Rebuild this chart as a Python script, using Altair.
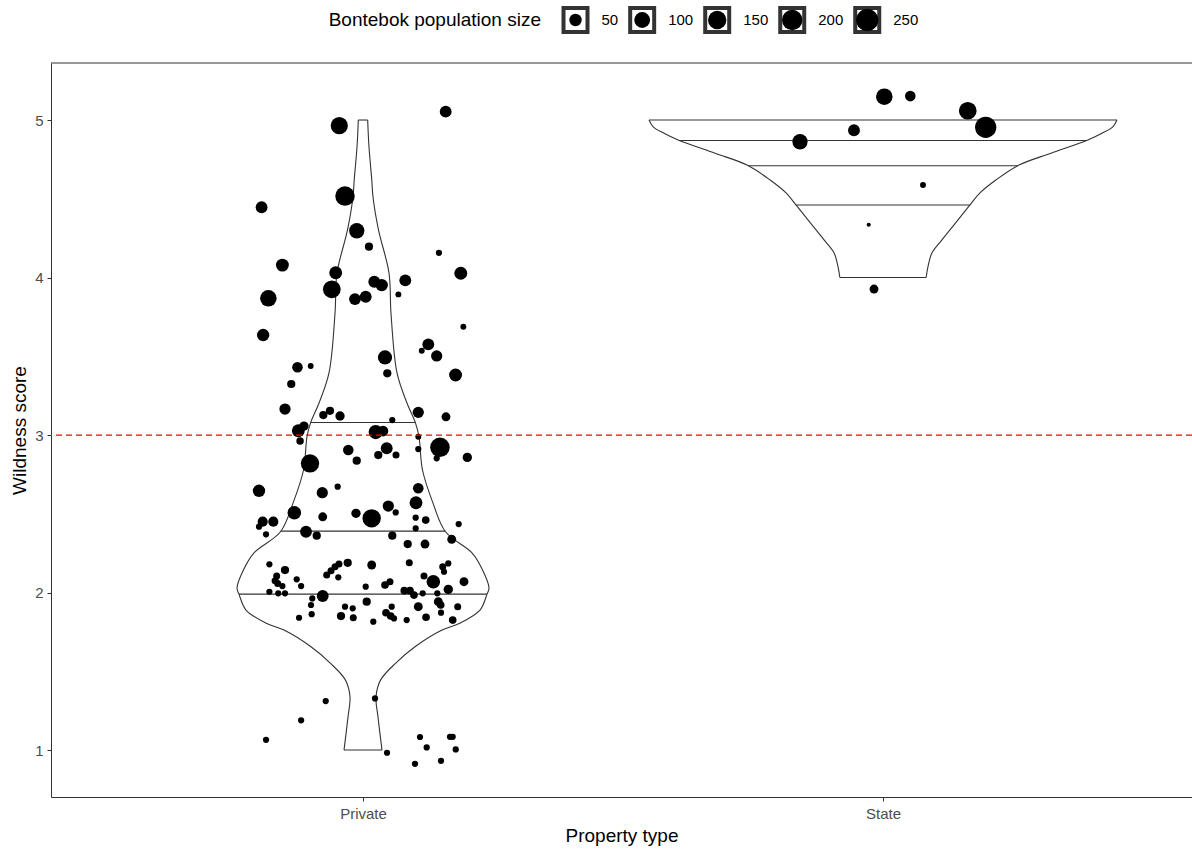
import json

import altair as alt
import numpy as np
import pandas as pd

# ---------------------------------------------------------------- data
prop_types = ["Private", "State"]

# Private properties: horizontal jitter (category units), jittered wildness score, population size
private_dx = [
    -0.0456, 0.159, -0.0346, -0.195, -0.012, 0.0115, 0.146, -0.155, 0.188, -0.0525,
    -0.060, -0.182, 0.0217, 0.036, 0.0813, 0.068, -0.0154, 0.0052, -0.192, 0.193,
    0.1256, 0.113, 0.1417, 0.0423, 0.0467, 0.178, -0.126, -0.1006, -0.138, -0.15,
    -0.0763, -0.0635, -0.0442, 0.0563, 0.1063, 0.1596, -0.1244, -0.1135, -0.121, 0.0244,
    0.0385, 0.1063, 0.148, 0.1417, 0.2006, 0.0456, 0.0294, 0.0635, -0.0283, -0.0121,
    0.1063, -0.1019, -0.2, -0.0783, -0.0487, 0.1063, 0.1019, -0.1321, -0.1929, -0.1725,
    -0.2, -0.1865, -0.0775, -0.0135, 0.0167, 0.0487, 0.0629, 0.1013, 0.1206, 0.1013,
    0.184, -0.1096, -0.089, 0.0563, 0.1706, 0.086, 0.1192, -0.180, -0.15, -0.166,
    -0.169, -0.164, -0.155, -0.1275, -0.119, -0.180, -0.163, -0.15, -0.0775, -0.0975,
    -0.1, -0.0987, -0.123, -0.0698, -0.0615, -0.0538, -0.0462, -0.0294, -0.0475, 0.0052,
    0.0071, -0.0423, -0.0346, -0.0198, -0.0187, 0.0167, 0.089, 0.1533, 0.164, 0.1558,
    0.1942, 0.1352, 0.1173, 0.0423, 0.0519, 0.0794, 0.0904, 0.098, 0.1148, 0.1429,
    0.164, 0.1063, 0.1448, 0.1494, 0.1821, 0.0552, 0.0442, 0.0533, 0.0596, 0.15,
    0.1212, 0.084, 0.0198, 0.1725, -0.0717, -0.119, -0.1865, 0.0231, 0.0462, 0.1096,
    0.1225, 0.1, 0.15, 0.1673, 0.1725, 0.1783,
]
private_score = [
    4.964, 5.053, 4.517, 4.446, 4.297, 4.196, 4.157, 4.079, 4.027, 4.030,
    3.925, 3.868, 3.973, 3.952, 3.982, 3.893, 3.863, 3.878, 3.635, 3.688,
    3.576, 3.535, 3.502, 3.493, 3.392, 3.381, 3.430, 3.438, 3.324, 3.165,
    3.127, 3.154, 3.121, 3.095, 3.144, 3.116, 3.027, 3.057, 2.962, 3.019,
    3.025, 2.989, 2.922, 2.852, 2.858, 2.916, 2.873, 2.873, 2.905, 2.837,
    2.911, 2.820, 2.646, 2.634, 2.672, 2.662, 2.570, 2.507, 2.450, 2.450,
    2.418, 2.370, 2.481, 2.503, 2.471, 2.549, 2.509, 2.475, 2.460, 2.408,
    2.435, 2.386, 2.361, 2.361, 2.338, 2.308, 2.308, 2.179, 2.143, 2.105,
    2.075, 2.058, 2.041, 2.084, 2.041, 2.005, 1.995, 1.995, 1.978, 1.963,
    1.921, 1.863, 1.840, 2.111, 2.138, 2.164, 2.181, 2.189, 2.097, 2.037,
    1.942, 1.851, 1.910, 1.900, 1.840, 2.175, 2.189, 2.164, 2.185, 2.132,
    2.069, 2.069, 2.105, 2.048, 2.069, 2.012, 2.012, 1.984, 1.995, 1.995,
    2.020, 1.910, 1.942, 1.921, 1.910, 1.910, 1.872, 1.851, 1.836, 1.872,
    1.843, 1.825, 1.815, 1.825, 1.311, 1.189, 1.065, 1.328, 0.983, 1.083,
    1.017, 0.913, 0.932, 1.084, 1.084, 1.004,
]
private_pop = [
    125, 44, 177, 44, 90, 15, 6, 56, 56, 56,
    135, 112, 44, 50, 44, 5, 44, 44, 50, 5,
    44, 5, 38, 73, 15, 56, 32, 5, 15, 38,
    15, 15, 22, 6, 38, 19, 56, 22, 11, 73,
    32, 5, 177, 6, 22, 44, 15, 9, 32, 15,
    6, 150, 50, 38, 6, 32, 56, 65, 28, 28,
    6, 6, 19, 22, 150, 38, 6, 6, 12, 6,
    6, 44, 15, 15, 19, 15, 19, 6, 15, 9,
    9, 9, 6, 6, 6, 6, 6, 6, 44, 6,
    6, 6, 6, 9, 9, 9, 9, 15, 6, 6,
    15, 15, 6, 6, 9, 19, 9, 9, 6, 6,
    19, 65, 9, 12, 9, 12, 12, 12, 6, 6,
    22, 19, 19, 12, 9, 6, 12, 12, 6, 6,
    12, 6, 6, 12, 6, 6, 6, 6, 6, 6,
    6, 6, 6, 6, 6, 6,
]

# State properties
state_dx = [0.0025, 0.0525, 0.163, 0.1975, -0.0558, -0.1596, 0.0769, -0.0275, -0.0173]
state_score = [5.148, 5.152, 5.059, 4.954, 4.935, 4.862, 4.587, 4.335, 3.927]
state_pop = [112, 32, 135, 223, 44, 90, 5, 1, 19]

# Violin outlines: score level and half-width (category units)
private_violin_y = [
    1.0, 1.211, 1.338, 1.444, 1.551, 1.656, 1.762, 1.804, 1.889, 1.990,
    2.029, 2.143, 2.251, 2.386, 2.568, 2.778, 2.989, 3.076, 3.203, 3.394,
    3.775, 4.029, 4.302, 4.513, 4.619, 4.830, 5.0,
]
private_violin_hw = [
    0.0365, 0.0288, 0.025, 0.0337, 0.0625, 0.100, 0.152, 0.185, 0.225, 0.2385,
    0.2423, 0.230, 0.210, 0.1587, 0.1346, 0.1144, 0.1077, 0.101, 0.0846, 0.0654,
    0.0538, 0.050, 0.0298, 0.0192, 0.0169, 0.0115, 0.009,
]
state_violin_y = [
    4.0, 4.069, 4.156, 4.238, 4.365, 4.460, 4.537, 4.619, 4.714, 4.789,
    4.873, 4.916, 4.957, 5.0,
]
state_violin_hw = [
    0.083, 0.0865, 0.094, 0.113, 0.144, 0.167, 0.1865, 0.217, 0.2615, 0.323,
    0.394, 0.421, 0.442, 0.45,
]

private_quartiles = [1.99, 2.39, 3.08]
state_quartiles = [4.46, 4.71, 4.87]

threshold = [3]
legend_breaks = [50, 100, 150, 200, 250]

# ---------------------------------------------------------------- layout
W, H = 1141, 734
X_DOMAIN = [0.4, 0.4 + W / 520.0]
Y_DOMAIN = [0.702, 5.362]
FONT = "Liberation Sans"
LINE = "#333333"

xscale = alt.Scale(domain=X_DOMAIN, nice=False, zero=False)
yscale = alt.Scale(domain=Y_DOMAIN, nice=False, zero=False)
size_scale = alt.Scale(type="pow", exponent=0.75, domain=[1, 250], range=[17, 491])

x_axis = alt.Axis(
    values=[1, 2],
    labelExpr=f"{json.dumps(prop_types)}[datum.value - 1]",
    title="Property type",
    tickSize=4,
    labelPadding=5,
    titlePadding=5,
)
y_axis = alt.Axis(
    values=[1, 2, 3, 4, 5],
    title="Wildness score",
    tickSize=4,
    labelPadding=4,
    titlePadding=5,
)


def X(field):
    return alt.X(field, type="quantitative", scale=xscale, axis=x_axis)


def Y(field):
    return alt.Y(field, type="quantitative", scale=yscale, axis=y_axis)


# ---------------------------------------------------------------- frames
points = pd.concat(
    [
        pd.DataFrame({"prop": prop_types[0],
                      "x": 1 + np.array(private_dx),
                      "score": private_score,
                      "pop": private_pop}),
        pd.DataFrame({"prop": prop_types[1],
                      "x": 2 + np.array(state_dx),
                      "score": state_score,
                      "pop": state_pop}),
    ],
    ignore_index=True,
)

outline_rows = []
rule_rows = []
violins = [
    (1, private_violin_y, private_violin_hw, private_quartiles),
    (2, state_violin_y, state_violin_hw, state_quartiles),
]
for centre, vy, hw, quarts in violins:
    for side in (-1, 1):
        for yy, ww in zip(vy, hw):
            outline_rows.append({"grp": f"{centre}{side}", "x": centre + side * ww, "y": yy})
    # end caps of the violin
    for idx in (0, -1):
        rule_rows.append({"y": vy[idx], "x1": centre - hw[idx], "x2": centre + hw[idx]})
    # quartile lines
    for q in quarts:
        w = float(np.interp(q, vy, hw))
        rule_rows.append({"y": q, "x1": centre - w, "x2": centre + w})

outline = pd.DataFrame(outline_rows)
rules = pd.DataFrame(rule_rows)
thresh = pd.DataFrame({"t": threshold})

# ---------------------------------------------------------------- plot layers
violin_lines = alt.Chart(outline).mark_line(
    interpolate="catmull-rom", color=LINE, strokeWidth=1.1
).encode(x=X("x"), y=Y("y"), detail="grp:N", order="y:Q")

violin_rules = alt.Chart(rules).mark_rule(color=LINE, strokeWidth=1.1).encode(
    x=X("x1"), x2="x2:Q", y=Y("y")
)

dots = alt.Chart(points).mark_circle(color="black", opacity=1).encode(
    x=X("x"),
    y=Y("score"),
    size=alt.Size("pop:Q", scale=size_scale, legend=None),
)

cutoff = alt.Chart(thresh).mark_rule(
    color="#ff0000", strokeWidth=1.3, strokeDash=[6, 4]
).encode(y=Y("t"))

top_border = alt.Chart(thresh).mark_rule(color=LINE, strokeWidth=1).encode(
    x=alt.value(0), x2=alt.value(W), y=alt.value(0)
)

main = alt.layer(violin_lines, violin_rules, dots, cutoff, top_border)

# ---------------------------------------------------------------- legend strip
LEG_Y = -43
LABEL_FS = 15
title_right = 490
key_w, key_gap, item_gap = 28, 12, 10
cursor = title_right + 20.5
legend_rows = []
for b in legend_breaks:
    label = str(b)
    legend_rows.append({"pop": b, "kx": cursor + key_w / 2,
                        "tx": cursor + key_w + key_gap, "label": label})
    cursor += key_w + key_gap + 0.556 * LABEL_FS * len(label) + item_gap
legend_df = pd.DataFrame(legend_rows)
legend_title = pd.DataFrame({"tx": [title_right], "label": ["Bontebok population size"]})

lscale = alt.Scale(domain=[0, W], nice=False, zero=False)

key_outer = alt.Chart(legend_df).mark_square(
    color=LINE, size=key_w ** 2, opacity=1
).encode(x=alt.X("kx:Q", scale=lscale, axis=None), y=alt.value(LEG_Y))

key_inner = alt.Chart(legend_df).mark_square(
    color="white", size=20 ** 2, opacity=1
).encode(x=alt.X("kx:Q", scale=lscale, axis=None), y=alt.value(LEG_Y))

key_dot = alt.Chart(legend_df).mark_circle(color="black", opacity=1).encode(
    x=alt.X("kx:Q", scale=lscale, axis=None),
    y=alt.value(LEG_Y),
    size=alt.Size("pop:Q", scale=size_scale, legend=None),
)

key_text = alt.Chart(legend_df).mark_text(
    align="left", baseline="middle", font=FONT, fontSize=LABEL_FS, color="black"
).encode(x=alt.X("tx:Q", scale=lscale, axis=None), y=alt.value(LEG_Y), text="label:N")

key_title = alt.Chart(legend_title).mark_text(
    align="right", baseline="middle", font=FONT, fontSize=19, color="black"
).encode(x=alt.X("tx:Q", scale=lscale, axis=None), y=alt.value(LEG_Y), text="label:N")

legend_strip = alt.layer(key_outer, key_inner, key_dot, key_text, key_title)

chart = (
    alt.layer(main, legend_strip)
    .resolve_scale(x="independent")
    .properties(
        width=W,
        height=H,
        autosize=alt.AutoSizeParams(type="none"),
        padding={"left": 51, "top": 63, "right": 0, "bottom": 55},
        background="white",
    )
    .configure_view(stroke=None)
    .configure_axis(
        grid=False,
        domainColor=LINE,
        domainWidth=1,
        tickColor=LINE,
        tickWidth=1,
        labelColor="#4D4D4D",
        labelFont=FONT,
        labelFontSize=15,
        titleFont=FONT,
        titleFontSize=19,
        titleFontWeight="normal",
        titleColor="black",
    )
)

chart.save("out.html", embed_options={"renderer": "svg", "actions": False})
